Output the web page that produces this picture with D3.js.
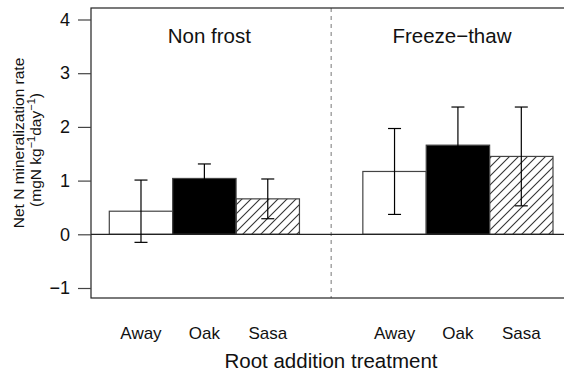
<!DOCTYPE html>
<html>
<head>
<meta charset="utf-8">
<script src="https://cdn.jsdelivr.net/npm/d3@7"></script>
<style>
  body { margin: 0; background: #fff; }
  svg { display: block; font-family: "Liberation Sans", Arial, sans-serif; }
</style>
</head>
<body>
<div id="chart"></div>
<script>
// podaci
const groups = ['Non frost', 'Freeze\u2212thaw'];
const treatments = ['Away', 'Oak', 'Sasa'];
const nfMean = [0.43, 1.04, 0.66];
const nfErr  = [0.58, 0.27, 0.37];
const ftMean = [1.17, 1.66, 1.45];
const ftErr  = [0.80, 0.71, 0.92];
const yTicks = [-1, 0, 1, 2, 3, 4];

const W = 564, H = 376;
const m = { left: 91, top: 8, right: -4, bottom: 78 };
const fills = ['#fff', '#000', 'url(#hatch)'];

const svg = d3.select('#chart').append('svg').attr('width', W).attr('height', H);

// šrafura za Sasa
svg.append('defs').append('pattern')
  .attr('id', 'hatch').attr('patternUnits', 'userSpaceOnUse')
  .attr('width', 9).attr('height', 9)
  .append('path').attr('d', 'M0,9 L9,0 M-3,3 L3,-3 M6,12 L12,6')
  .attr('stroke', '#333').attr('stroke-width', 1.1);

const slots = ['NF-Away', 'NF-Oak', 'NF-Sasa', 'gap', 'FT-Away', 'FT-Oak', 'FT-Sasa'];
const x = d3.scaleBand().domain(slots).range([109.3, 553]).padding(0);
const y = d3.scaleLinear().domain([-1, 4]).range([288, 19.5]);

const rows = [];
[['NF', nfMean, nfErr], ['FT', ftMean, ftErr]].forEach(([g, mean, err]) => {
  treatments.forEach((t, i) => rows.push({ key: g + '-' + t, t, v: mean[i], e: err[i], fill: fills[i] }));
});

// isprekidana linija između grupa
const xSep = x('gap') + x.bandwidth() / 2;
svg.append('line').attr('x1', xSep).attr('x2', xSep).attr('y1', m.top).attr('y2', H - m.bottom)
  .attr('stroke', '#777').attr('stroke-dasharray', '4,4').attr('stroke-width', 1);

// stupci
svg.selectAll('rect.bar').data(rows).join('rect').attr('class', 'bar')
  .attr('x', d => x(d.key)).attr('width', x.bandwidth())
  .attr('y', d => y(Math.max(0, d.v))).attr('height', d => Math.abs(y(d.v) - y(0)))
  .attr('fill', d => d.fill).attr('stroke', '#444').attr('stroke-width', 1.2);

// nulta linija
svg.append('line').attr('x1', m.left).attr('x2', W).attr('y1', y(0)).attr('y2', y(0))
  .attr('stroke', '#222').attr('stroke-width', 1.2);

// error bars
const cap = 6.5;
const eb = svg.append('g').attr('stroke', '#000').attr('stroke-width', 1.2);
rows.forEach(d => {
  const cx = x(d.key) + x.bandwidth() / 2;
  eb.append('line').attr('x1', cx).attr('x2', cx).attr('y1', y(d.v - d.e)).attr('y2', y(d.v + d.e));
  [d.v - d.e, d.v + d.e].forEach(v =>
    eb.append('line').attr('x1', cx - cap).attr('x2', cx + cap).attr('y1', y(v)).attr('y2', y(v)));
});

// okvir
svg.append('rect').attr('x', m.left).attr('y', m.top)
  .attr('width', W - m.left - m.right).attr('height', H - m.bottom - m.top)
  .attr('fill', 'none').attr('stroke', '#222').attr('stroke-width', 1.2);

// y os
const ya = svg.append('g').attr('transform', `translate(${m.left},0)`)
  .call(d3.axisLeft(y).tickValues(yTicks).tickSize(13).tickPadding(8).tickFormat(d => d < 0 ? '\u2212' + Math.abs(d) : d));
ya.select('.domain').remove();
ya.selectAll('line').attr('stroke', '#444').attr('stroke-width', 1.2);
ya.selectAll('text').attr('font-size', 18).attr('fill', '#111').attr('font-family', '"Liberation Sans", Arial, sans-serif');

// x oznake
svg.selectAll('text.xt').data(rows).join('text').attr('class', 'xt')
  .attr('x', d => x(d.key) + x.bandwidth() / 2).attr('y', 339)
  .attr('text-anchor', 'middle').attr('font-size', 17).attr('fill', '#111').text(d => d.t);

// naslovi grupa
const gc = [x('NF-Oak') + x.bandwidth() / 2 + 5, x('FT-Oak') + x.bandwidth() / 2 - 6];
groups.forEach((g, i) => svg.append('text').attr('x', gc[i]).attr('y', 43)
  .attr('text-anchor', 'middle').attr('font-size', 20.5).attr('fill', '#111').text(g));

// naslov x osi
svg.append('text').attr('x', 331).attr('y', 368).attr('text-anchor', 'middle')
  .attr('font-size', 20.5).attr('fill', '#111').text('Root addition treatment');

// naslov y osi
svg.append('text').attr('transform', 'translate(24,143) rotate(-90)').attr('text-anchor', 'middle')
  .attr('font-size', 15.5).attr('fill', '#111').text('Net N mineralization rate');
const t2 = svg.append('text').attr('transform', 'translate(41,150) rotate(-90)').attr('text-anchor', 'middle')
  .attr('font-size', 15.5).attr('fill', '#111');
t2.append('tspan').text('(mgN kg');
t2.append('tspan').attr('font-size', 11).attr('dy', -6).text('\u22121');
t2.append('tspan').attr('dy', 6).text('day');
t2.append('tspan').attr('font-size', 11).attr('dy', -6).text('\u22121');
t2.append('tspan').attr('dy', 6).text(')');
</script>
</body>
</html>
